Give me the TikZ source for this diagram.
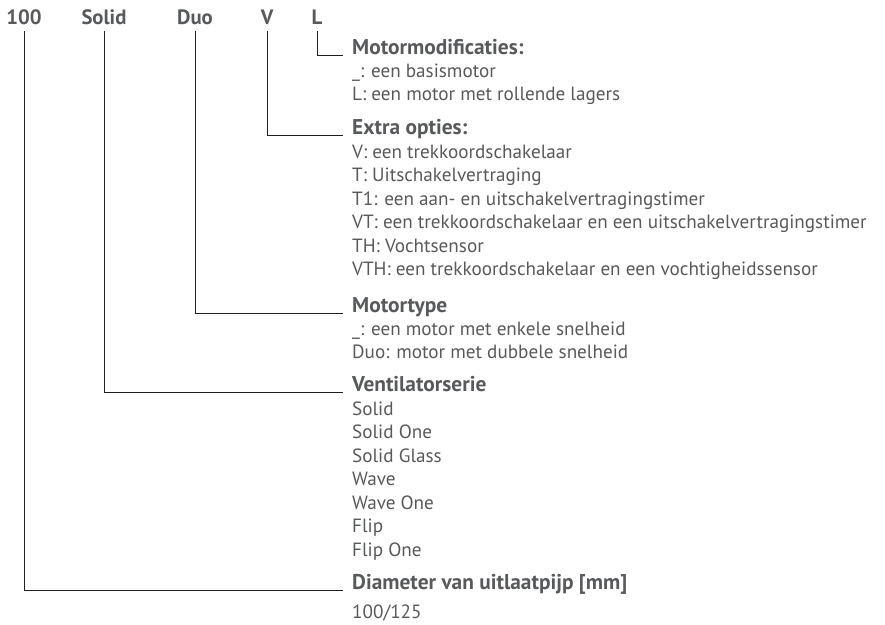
\documentclass[tikz,border=0pt]{standalone}
\usepackage{fontspec}
\setmainfont{PT Sans}
\definecolor{txt}{HTML}{58595B}
\definecolor{ln}{HTML}{231F20}
\newlength\mylen
\begin{document}
\settowidth\mylen{\fontsize{10}{12}\selectfont Duo: motor met dubbele snelheid}%
\pgfmathsetmacro\bodysize{10*276/\mylen}%
\settowidth\mylen{\fontsize{10}{12}\selectfont\bfseries Diameter van uitlaatpijp [mm]}%
\pgfmathsetmacro\headsize{10*275/\mylen}%
\settowidth\mylen{\fontsize{10}{12}\selectfont\bfseries Solid}%
\pgfmathsetmacro\codesize{10*45/\mylen}%
\begin{tikzpicture}[x=1pt,y=-1pt,
  body/.style={font=\fontsize{\bodysize}{20}\selectfont, text=txt, inner sep=0pt, anchor=base west},
  head/.style={body, font=\fontsize{\headsize}{20}\selectfont\bfseries},
  code/.style={font=\fontsize{\codesize}{20}\selectfont\bfseries, text=txt, inner sep=0pt, anchor=base},
  conn/.style={draw=ln, line width=1pt}]
\useasboundingbox (0,0) rectangle (885,624);

% code letters
\node[code] (c100) at (24,24) {100};
\node[code] (csol) at (104,24) {Solid};
\node[code] (cduo) at (195,24) {Duo};
\node[code] (cv) at (267,24) {V};
\node[code] (cl) at (317,24) {L};

% Motormodificaties
\node[head] (hmm) at (352,54.5) {Motormodificaties:};
\node[body] at (352,77.5) {\_: een basismotor};
\node[body] at (352,100) {L: een motor met rollende lagers};

% Extra opties
\node[head] (hext) at (352,134.5) {Extra opties:};
\node[body] at (352,158) {V: een trekkoordschakelaar};
\node[body] at (352,181.5) {T: Uitschakelvertraging};
\node[body] at (352,205) {T1: een aan- en uitschakelvertragingstimer};
\node[body] at (352,228.5) {VT: een trekkoordschakelaar en een uitschakelvertragingstimer};
\node[body] at (352,252) {TH: Vochtsensor};
\node[body] at (352,275.5) {VTH: een trekkoordschakelaar en een vochtigheidssensor};

% Motortype
\node[head] (hmt) at (352,312.5) {Motortype};
\node[body] at (352,335.5) {\_: een motor met enkele snelheid};
\node[body] at (352,358) {Duo: motor met dubbele snelheid};

% Ventilatorserie
\node[head] (hvs) at (352,391.5) {Ventilatorserie};
\node[body] at (352,415) {Solid};
\node[body] at (352,438.5) {Solid One};
\node[body] at (352,462) {Solid Glass};
\node[body] at (352,485.5) {Wave};
\node[body] at (352,509) {Wave One};
\node[body] at (352,532.5) {Flip};
\node[body] at (352,556) {Flip One};

% Diameter
\node[head] (hdia) at (352,589.5) {Diameter van uitlaatpijp [mm]};
\node[body] at (352,618) {100/125};

% connectors
\draw[conn] ([yshift=-7pt]cl.south) |- ([shift={(-9pt,-0.5pt)}]hmm.base west);
\draw[conn] ([yshift=-7pt]cv.south) |- ([shift={(-9pt,-0.5pt)}]hext.base west);
\draw[conn] ([yshift=-7pt]cduo.south) |- ([shift={(-9pt,-0.5pt)}]hmt.base west);
\draw[conn] ([yshift=-7pt]csol.south) |- ([shift={(-9pt,-0.5pt)}]hvs.base west);
\draw[conn] ([yshift=-7pt]c100.south) |- ([shift={(-9pt,-0.5pt)}]hdia.base west);
\end{tikzpicture}
\end{document}
